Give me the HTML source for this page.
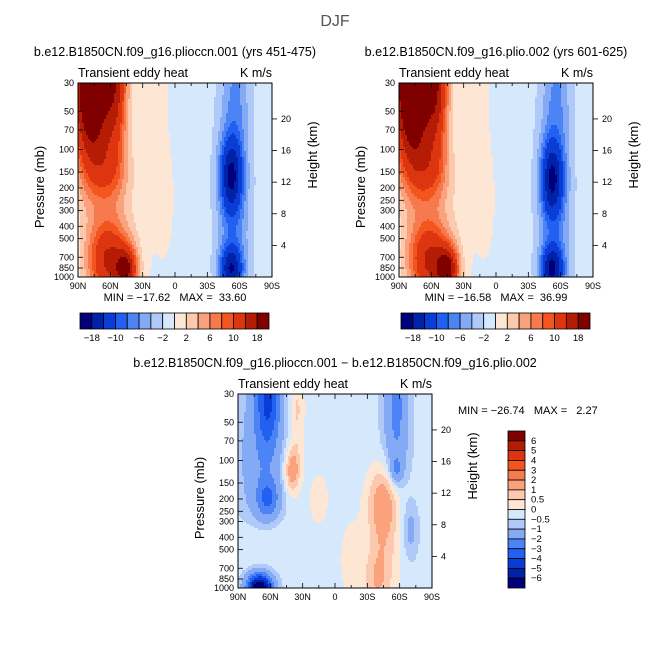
<!DOCTYPE html>
<html><head><meta charset="utf-8">
<style>
html,body{margin:0;padding:0;background:#fff;}
svg{display:block;font-family:"Liberation Sans",sans-serif;}
text{white-space:pre;}
</style></head>
<body>
<svg id="fig" width="671" height="671" viewBox="0 0 671 671" xmlns="http://www.w3.org/2000/svg">
<rect width="671" height="671" fill="#fff"/>
<text x="335" y="26" font-size="16" fill="#555" text-anchor="middle">DJF</text>
</svg>
<script>
// ---- data ----
const latTicks = [90, 60, 30, 0, -30, -60, -90];
const latLabels = ["90N","60N","30N","0","30S","60S","90S"];
const presTicks = [30,50,70,100,150,200,250,300,400,500,700,850,1000];
const heightTicks = [4,8,12,16,20];
const levelsAbs = [-18,-14,-10,-8,-6,-4,-2,0,2,4,6,8,10,14,18];
const levelsAbsLabels = ["-18","-10","-6","-2","2","6","10","18"];
const levelsDiff = [-6,-5,-4,-3,-2,-1,-0.5,0,0.5,1,2,3,4,5,6];
const levelsDiffLabels = ["-6","-5","-4","-3","-2","-1","-0.5","0","0.5","1","2","3","4","5","6"];
const palette = ["#00007a","#0022a8","#0a3cd6","#2260f2","#4d84f5","#84aaf6","#afcaf9","#d6e8fc",
                 "#fde6d4","#fcc8ae","#f9a27c","#f77a4e","#f4551f","#dc3510","#b41c06","#800000"];
// blobs: amplitude, lat center, pressure center (mb), lat width, log-p width
const blobAmpA = [28,14,6,14,14,2,-13,-13,-6,-3,2.2,1.8];
const blobLatA = [78,55,62,62,45,55,-52,-52,-54,-57,20,10];
const blobPresA = [30,30,150,750,880,300,160,860,300,30,30,250];
const blobWLatA = [12,8,13,14,7,22,7,7,11,9,9,6];
const blobWSA = [0.3,0.25,0.12,0.15,0.08,0.3,0.13,0.08,0.5,0.25,0.3,0.2];
const backgroundA = -0.8;
const blobAmpB = [30,15,6.5,14,16,2,-13,-14,-6,-3,2.2,1.8];
const blobLatB = [78,55,62,62,45,55,-52,-52,-54,-57,20,10];
const blobPresB = [30,30,150,750,880,300,170,860,300,30,30,250];
const blobWLatB = [12,8,13,14,7,22,7,7,11,9,9,6];
const blobWSB = [0.3,0.25,0.12,0.15,0.08,0.3,0.13,0.08,0.5,0.25,0.3,0.2];
const backgroundB = -0.8;
const blobAmpD = [-3.5,-1.2,-2.3,-7,1.8,0.9,-2,-1.3,1.4,1.1,0.8,0.8,-1,0.5,0.6];
const blobLatD = [62,70,62,70,40,35,-57,-57,-47,-45,-38,70,-70,15,-15];
const blobPresD = [30,100,200,1000,120,40,40,120,200,450,900,450,350,200,600];
const blobWLatD = [8,15,7,8,5,5,8,4,11,11,8,20,5,8,8];
const blobWSD = [0.2,0.35,0.07,0.05,0.08,0.2,0.3,0.05,0.12,0.22,0.1,0.1,0.1,0.12,0.15];
const backgroundD = -0.3;

const NS="http://www.w3.org/2000/svg";
const svg=document.getElementById('fig');
const LOGR=Math.log(1000/30);
function el(tag,attrs,parent){const e=document.createElementNS(NS,tag);for(const k in attrs)e.setAttribute(k,attrs[k]);(parent||svg).appendChild(e);return e;}
function txt(x,y,s,size,anchor,parent){const t=el('text',{x:x,y:y,'font-size':size,'text-anchor':anchor||'start',fill:'#000'},parent);t.textContent=s;return t;}

function panel(px,py,W,H,amp,lat,pres,wl,ws,bg,levels,name,title,minmax,mmx,mmy,mmAnchor){
  const g=el('g',{});
  
  
  const xOf=l=>px+(90-l)/180*W;
  const yOfS=s=>py+H-s*H;
  const yOfP=p=>yOfS(Math.log(1000/p)/LOGR);
  function field(la,s){let v=bg;for(let i=0;i<amp.length;i++){const sc=Math.log(1000/pres[i])/LOGR;const dl=(la-lat[i])/wl[i],ds=(s-sc)/ws[i];v+=amp[i]*Math.exp(-0.5*(dl*dl+ds*ds));}return v;}
  function lvl(v){let k=0;while(k<levels.length&&v>=levels[k])k++;return k;}
  const N=97,cw=W/N,ch=H/N;
  const cg=el('g',{'shape-rendering':'crispEdges'},g);
  
  
  for(let j=0;j<N;j++){
    const s=1-(j+0.5)/N;
    let start=0,cur=lvl(field(90-(0.5)/N*180,s));
    for(let i=1;i<=N;i++){
      const k=i<N?lvl(field(90-(i+0.5)/N*180,s)):-1;
      if(k!==cur){
        const r=el('rect',{x:(px+start*cw).toFixed(2),y:(py+j*ch).toFixed(2),width:((i-start)*cw+0.6).toFixed(2),height:(ch+0.6).toFixed(2),fill:palette[cur]},cg);
        
        
        start=i;cur=k;
      }
    }
  }
  el('rect',{x:px,y:py,width:W,height:H,fill:'none',stroke:'#000','stroke-width':1},g);
  for(let l=90;l>=-90;l-=15){const x=xOf(l);const maj=l%30===0;const L=maj?5:3;
    el('line',{x1:x,y1:py+H,x2:x,y2:py+H-L,stroke:'#000','stroke-width':0.8},g);
    el('line',{x1:x,y1:py,x2:x,y2:py+L,stroke:'#000','stroke-width':0.8},g);}
  latTicks.forEach((l,i)=>{const t=txt(xOf(l),py+H+12,latLabels[i],9,'middle',g);});
  presTicks.forEach(p=>{const y=yOfP(p);el('line',{x1:px,y1:y,x2:px+5,y2:y,stroke:'#000','stroke-width':0.8},g);
    const t=txt(px-4,y+3,String(p),9,'end',g);});
  heightTicks.forEach(z=>{const p=1000*Math.exp(-z/7);const y=yOfP(p);el('line',{x1:px+W,y1:y,x2:px+W+5,y2:y,stroke:'#000','stroke-width':0.8},g);
    const t=txt(px+W+9,y+3,String(z),9,'start',g);});
  const yt=el('text',{x:0,y:0,'font-size':13,'text-anchor':'middle',fill:'#000',transform:`translate(${px-34},${py+H/2+7}) rotate(-90)`},g);yt.textContent='Pressure (mb)';
  
  const ht=el('text',{x:0,y:0,'font-size':13,'text-anchor':'middle',fill:'#000',transform:`translate(${px+W+45},${py+H/2-25}) rotate(-90)`},g);ht.textContent='Height (km)';
  
  let t=txt(px+W/2,py-27,title,12.5,'middle',g);
  t=txt(px,py-6,'Transient eddy heat',12.5,'start',g);
  t=txt(px+W,py-6,'K m/s',12.5,'end',g);
  t=txt(mmx,mmy,minmax,11,mmAnchor,g);
}

function hbar(x,y,w,h,labels,name){
  const g=el('g',{});
  const bw=w/16;
  for(let i=0;i<16;i++){const r=el('rect',{x:x+i*bw,y:y,width:bw,height:h,fill:palette[i],stroke:'#000','stroke-width':0.8},g);
    }
  labels.forEach((s,i)=>{const t=txt(x+bw*(1+2*i),y+h+12,s.replace('-','\u2212'),9.5,'middle',g);});
}
function vbar(x,y,w,h,labels,name){
  const g=el('g',{});
  const bh=h/16;
  for(let i=0;i<16;i++){const r=el('rect',{x:x,y:y+i*bh,width:w,height:bh,fill:palette[15-i],stroke:'#000','stroke-width':0.8},g);
    }
  for(let i=0;i<labels.length;i++){const s=labels[labels.length-1-i];const t=txt(x+w+6,y+bh*(i+1)+3,s.replace('-','\u2212'),9.5,'start',g);
    }
}

panel(78,83,194,194,blobAmpA,blobLatA,blobPresA,blobWLatA,blobWSA,backgroundA,levelsAbs,'panel-plioccn','b.e12.B1850CN.f09_g16.plioccn.001 (yrs 451-475)','MIN = \u221217.62   MAX =  33.60',175,301,'middle');
panel(399,83,194,194,blobAmpB,blobLatB,blobPresB,blobWLatB,blobWSB,backgroundB,levelsAbs,'panel-plio','b.e12.B1850CN.f09_g16.plio.002 (yrs 601-625)','MIN = \u221216.58   MAX =  36.99',496,301,'middle');
panel(238,394,194,194,blobAmpD,blobLatD,blobPresD,blobWLatD,blobWSD,backgroundD,levelsDiff,'panel-difference','b.e12.B1850CN.f09_g16.plioccn.001 \u2212 b.e12.B1850CN.f09_g16.plio.002','MIN = \u221226.74   MAX =   2.27',458,414,'start');
hbar(80,313,189,16,levelsAbsLabels,'colorbar-top-left');
hbar(401,313,189,16,levelsAbsLabels,'colorbar-top-right');
vbar(508,431,17,157,levelsDiffLabels,'colorbar-difference');
</script>
</body></html>
